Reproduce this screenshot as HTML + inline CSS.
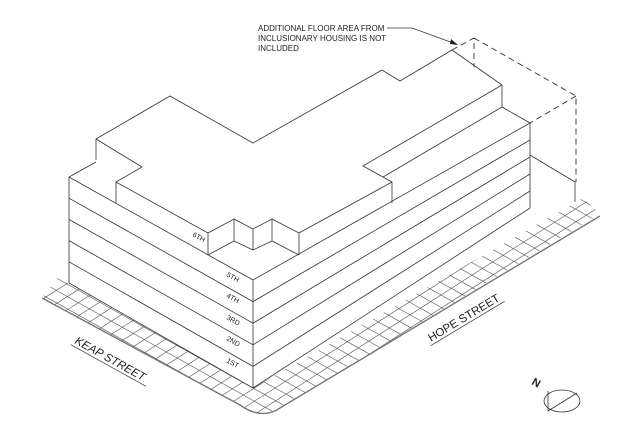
<!DOCTYPE html>
<html><head><meta charset="utf-8"><style>
html,body{margin:0;padding:0;background:#fff;width:640px;height:439px;overflow:hidden;}
svg{display:block;}
text{font-family:"Liberation Sans",sans-serif;fill:#222;}
</style></head><body>
<svg id="s" width="640" height="439" viewBox="0 0 640 439" xmlns="http://www.w3.org/2000/svg">
<defs>
<clipPath id="walk"><path d="M58,277 L253,388 L583,198 L600,214 L275,411 Q258,418 240,405 L42,298 Z"/></clipPath>
</defs>
<g id="grid" clip-path="url(#walk)" stroke="#555" stroke-width="0.6"></g>
<g fill="none" stroke="#777" stroke-width="1.4">
<path d="M42,298 L240,405 Q258,418 275,411 L600,216"/>
</g>
<g fill="none" stroke="#333" stroke-width="0.8" id="lines">
<path d="M69,177 V283 M253,280 V388 M530,123 V208"/>
<path d="M69,177 L96,162"/>
<path d="M96,160 V139 L170,96 L253,143 L382,70 L400,81 L452,50 L502,85 V107 L530,123"/>
<path d="M96,139 L142,167 L116,182 V203"/>
<path d="M116,182 L208,233 V255"/>
<path d="M208,233 L234,219 V241 L208,255 M234,219 L253,229 V250 M234,241 L253,250 M253,229 L272,219 V241 L253,250 M272,219 L299,233 V255 M272,241 L299,255"/>
<path d="M299,233 L392,182"/>
<path d="M502,85 L363,166 L392,182 V203"/>
<path d="M383,177 L502,107"/>
<path d="M530,155 L575,182 V202"/>
</g>
<g fill="none" stroke="#333" stroke-width="0.9" stroke-dasharray="6,4">
<path d="M452,50 L474,38 V67 M474,38 L576,96 V182 M576,96 L530,123"/>
</g>
<path d="M387,28 H412 L456,44" fill="none" stroke="#333" stroke-width="0.7"/>
<path d="M458,45 L451,39 L450,44 Z" fill="#222"/>
<text x="258" y="31" font-size="8">ADDITIONAL FLOOR AREA FROM</text>
<text x="258" y="41" font-size="8">INCLUSIONARY HOUSING IS NOT</text>
<text x="258" y="51" font-size="8">INCLUDED</text>
<g font-size="7">
<text transform="translate(192,236) rotate(29)">6TH</text>
<text transform="translate(226,276) rotate(29)">5TH</text>
<text transform="translate(226,297) rotate(29)">4TH</text>
<text transform="translate(226,319) rotate(29)">3RD</text>
<text transform="translate(226,340) rotate(29)">2ND</text>
<text transform="translate(226,362) rotate(29)">1ST</text>
</g>
<g transform="translate(74,343) rotate(29)">
<text x="0" y="0" font-size="11.5" font-style="italic">KEAP STREET</text>
<line x1="-2" y1="3" x2="84" y2="3" stroke="#333" stroke-width="0.7"/>
</g>
<g transform="translate(431,342) rotate(-31)">
<text x="0" y="0" font-size="11.5">HOPE STREET</text>
<line x1="-2" y1="3" x2="84" y2="3" stroke="#333" stroke-width="0.7"/>
</g>
<ellipse cx="562" cy="401" rx="18" ry="11" fill="none" stroke="#333" stroke-width="0.8"/>
<path d="M548,391 V411 L577,393" fill="none" stroke="#333" stroke-width="0.8"/>
<text transform="translate(531,384) rotate(29)" font-size="11" font-weight="bold">N</text>
</svg>
<script>
(function(){
var ns="http://www.w3.org/2000/svg";
var lines=document.getElementById('lines');
function L(g,x1,y1,x2,y2){var l=document.createElementNS(ns,'line');l.setAttribute('x1',x1.toFixed(1));l.setAttribute('y1',y1.toFixed(1));l.setAttribute('x2',x2.toFixed(1));l.setAttribute('y2',y2.toFixed(1));g.appendChild(l);}
for(var k=0;k<=5;k++){
 var yf=280+21.6*k;
 L(lines,69,177+21.2*k,253,yf);
 L(lines,253,yf,530,123+17*k);
}
var g=document.getElementById('grid');
var c,a,b;
for(c=-200;c<=400;c+=12.4){
 a=Math.max(40,(180-c)/0.56); b=Math.min(610,(420-c)/0.56);
 if(b>a) L(g,a,c+0.56*a,b,c+0.56*b);
}
for(c=300;c<=700;c+=13.2){
 a=Math.max(40,(c-420)/0.64); b=Math.min(610,(c-180)/0.64);
 if(b>a) L(g,a,c-0.64*a,b,c-0.64*b);
}
})();
</script>
</body></html>
